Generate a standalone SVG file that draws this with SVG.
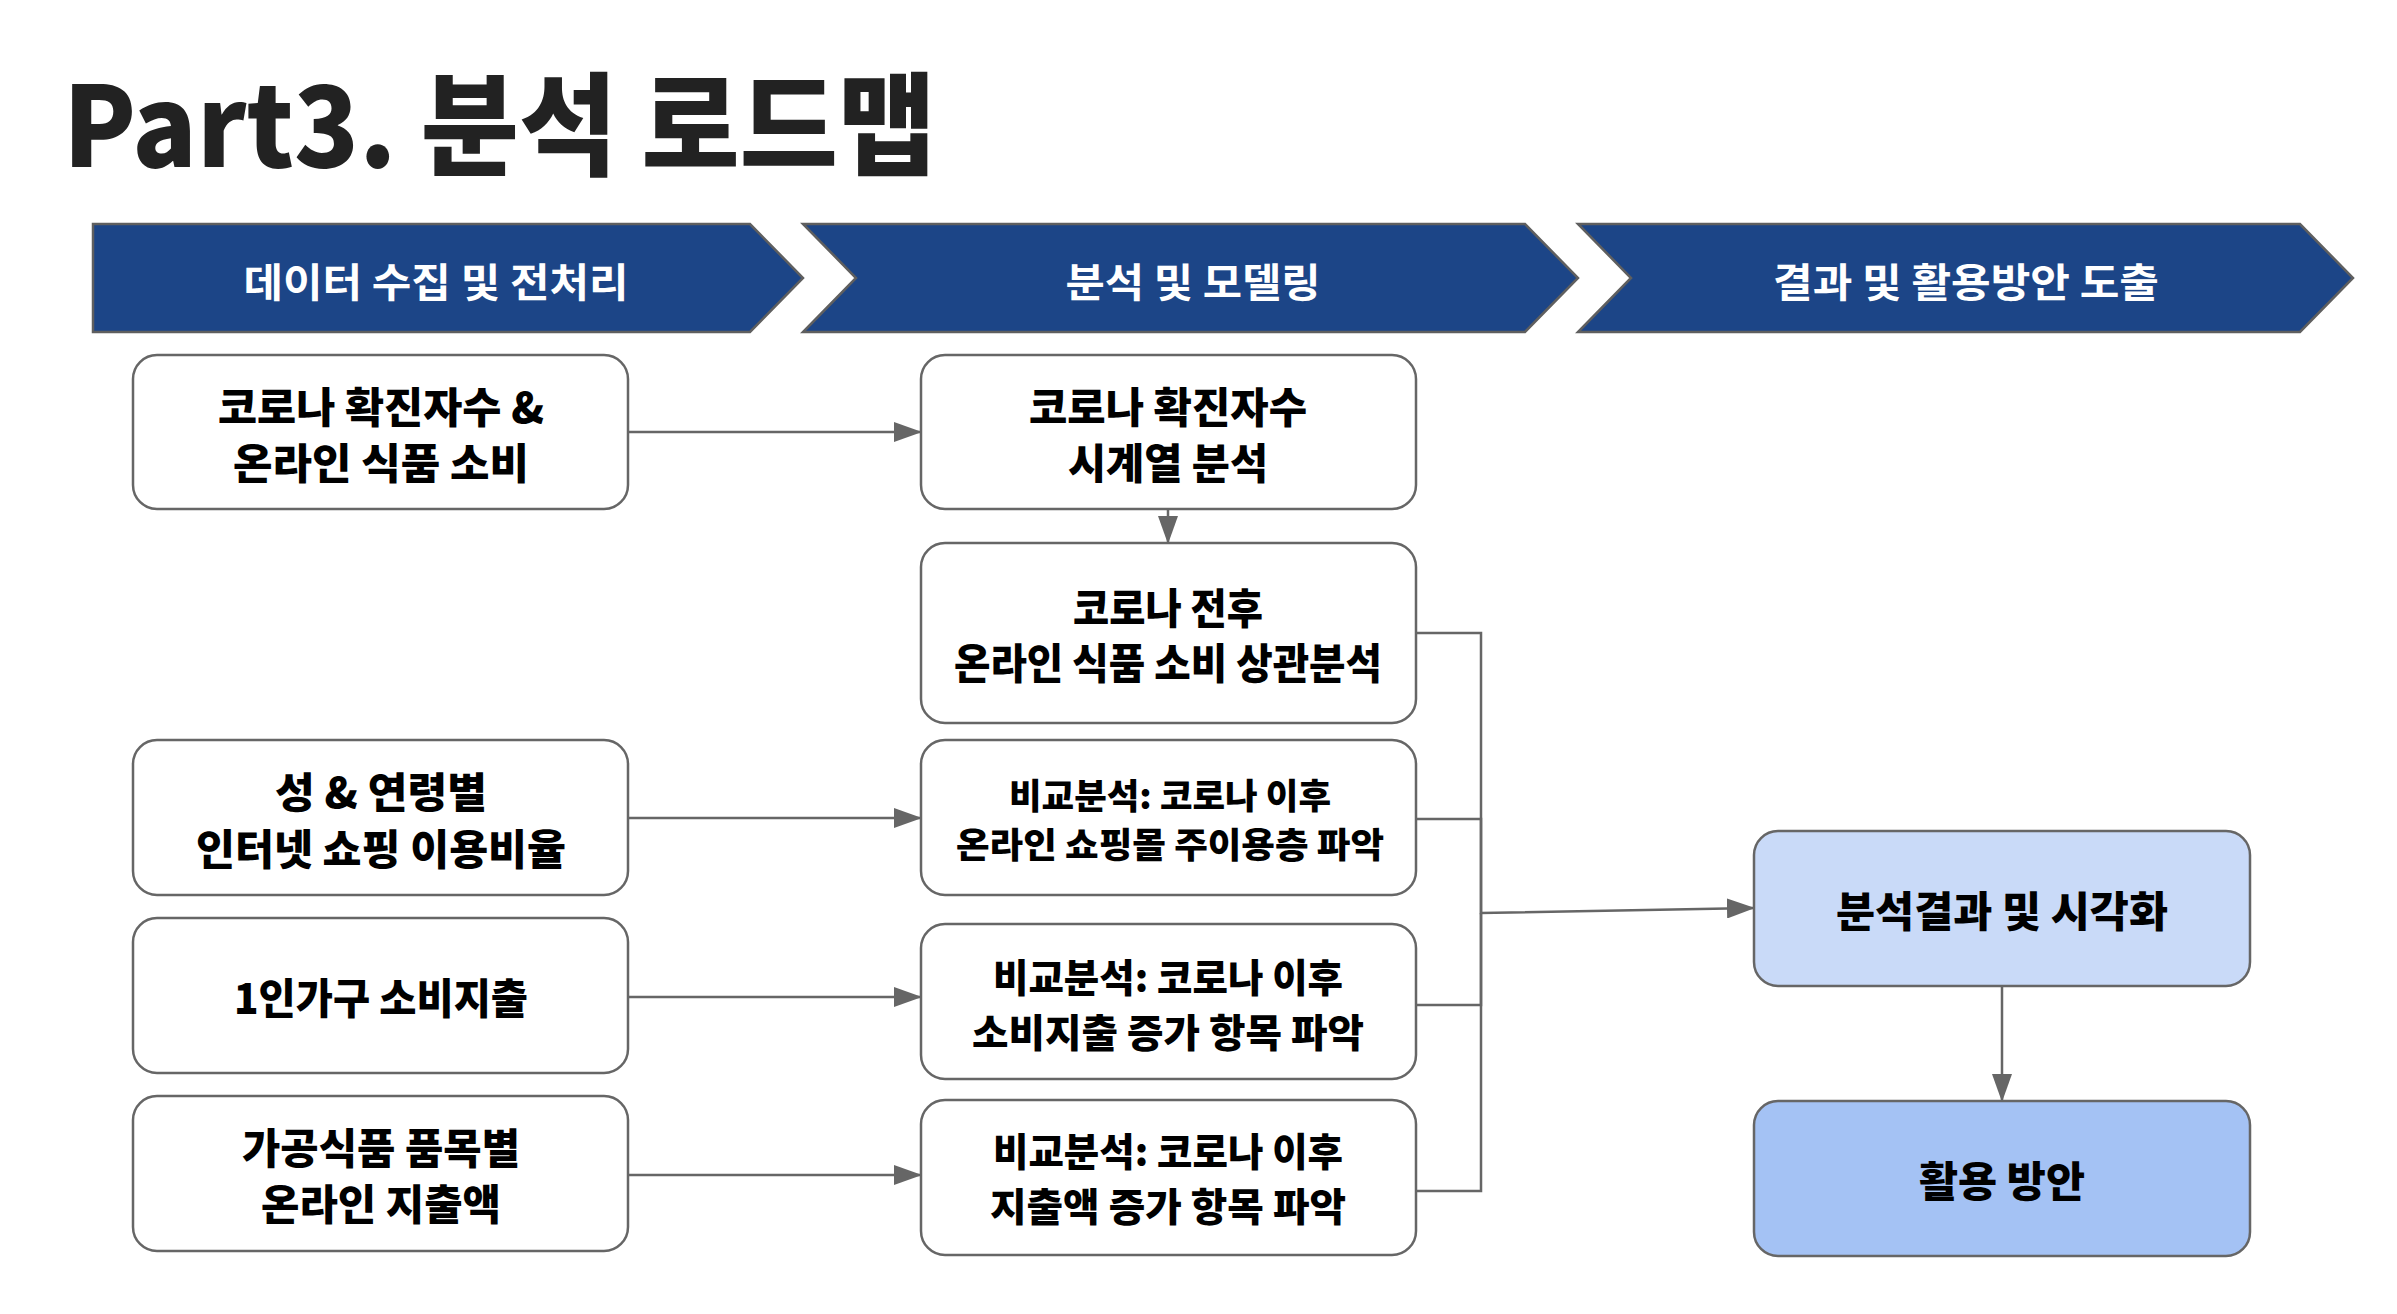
<svg xmlns="http://www.w3.org/2000/svg" width="2397" height="1314" viewBox="0 0 2397 1314">
<defs>
<style>
.bg{fill:#ffffff}
.chev{fill:#1c4587;stroke:#5f5f5f;stroke-width:2.5}
.ct{font-family:"Noto Sans CJK KR","Noto Sans",sans-serif;font-weight:700;font-size:40px;fill:#ffffff;text-anchor:middle;dominant-baseline:central}
.box{fill:#ffffff;stroke:#666666;stroke-width:2.5}
.c1{fill:#c9daf8;stroke:#666666;stroke-width:2.5}
.c2{fill:#a4c2f4;stroke:#666666;stroke-width:2.5}
.t{font-family:"Noto Sans CJK KR","Noto Sans",sans-serif;font-weight:900;font-size:42px;fill:#000000;text-anchor:middle;dominant-baseline:central}
.s{font-size:35px}
.m{font-size:39px}
.e{fill:none;stroke:#666666;stroke-width:2.5}
</style>
<marker id="ah" markerUnits="userSpaceOnUse" markerWidth="28" markerHeight="20" refX="27" refY="10" orient="auto">
<path d="M0,0 L28,10 L0,20 Z" fill="#666666"/>
</marker>
</defs>
<rect class="bg" x="0" y="0" width="2397" height="1314"/>
<text x="63" y="167" font-family="'Noto Sans CJK KR','Noto Sans',sans-serif" font-weight="900" font-size="112" fill="#222222" textLength="873" lengthAdjust="spacingAndGlyphs">Part3. 분석 로드맵</text>

<g id="phase1">
<polygon class="chev" points="93,224 750,224 803,278 750,332 93,332"/>
<text class="ct" x="436" y="280" textLength="385" lengthAdjust="spacingAndGlyphs">데이터 수집 및 전처리</text>
</g>
<g id="phase2">
<polygon class="chev" points="803,224 1525,224 1578,278 1525,332 803,332 856,278"/>
<text class="ct" x="1193" y="280" textLength="255" lengthAdjust="spacingAndGlyphs">분석 및 모델링</text>
</g>
<g id="phase3">
<polygon class="chev" points="1578,224 2300,224 2353,278 2300,332 1578,332 1631,278"/>
<text class="ct" x="1966" y="280" textLength="386" lengthAdjust="spacingAndGlyphs">결과 및 활용방안 도출</text>
</g>

<g id="connectors">
<path class="e" d="M628,432 H921" marker-end="url(#ah)"/>
<path class="e" d="M1168,509 V543" marker-end="url(#ah)"/>
<path class="e" d="M628,818 H921" marker-end="url(#ah)"/>
<path class="e" d="M628,997 H921" marker-end="url(#ah)"/>
<path class="e" d="M628,1175 H921" marker-end="url(#ah)"/>
<path class="e" d="M1416,633 H1481 V913 L1754,908" marker-end="url(#ah)"/>
<path class="e" d="M1416,819 H1481 V913"/>
<path class="e" d="M1416,1005 H1481 V913"/>
<path class="e" d="M1416,1191 H1481 V913"/>
<path class="e" d="M2002,986 V1101" marker-end="url(#ah)"/>
</g>

<g id="a1">
<rect class="box" x="133" y="355" width="495" height="154" rx="24"/>
<text class="t" x="381" y="404" textLength="326" lengthAdjust="spacingAndGlyphs">코로나 확진자수 &amp;</text>
<text class="t" x="381" y="460" textLength="296" lengthAdjust="spacingAndGlyphs">온라인 식품 소비</text>
</g>
<g id="a2">
<rect class="box" x="133" y="740" width="495" height="155" rx="24"/>
<text class="t" x="381" y="789" textLength="212" lengthAdjust="spacingAndGlyphs">성 &amp; 연령별</text>
<text class="t" x="381" y="846" textLength="370" lengthAdjust="spacingAndGlyphs">인터넷 쇼핑 이용비율</text>
</g>
<g id="a3">
<rect class="box" x="133" y="918" width="495" height="155" rx="24"/>
<text class="t" x="381" y="995" textLength="294" lengthAdjust="spacingAndGlyphs">1인가구 소비지출</text>
</g>
<g id="a4">
<rect class="box" x="133" y="1096" width="495" height="155" rx="24"/>
<text class="t" x="381" y="1145" textLength="278" lengthAdjust="spacingAndGlyphs">가공식품 품목별</text>
<text class="t" x="381" y="1201" textLength="240" lengthAdjust="spacingAndGlyphs">온라인 지출액</text>
</g>

<g id="b1">
<rect class="box" x="921" y="355" width="495" height="154" rx="24"/>
<text class="t" x="1168" y="404" textLength="278" lengthAdjust="spacingAndGlyphs">코로나 확진자수</text>
<text class="t" x="1168" y="460" textLength="200" lengthAdjust="spacingAndGlyphs">시계열 분석</text>
</g>
<g id="b2">
<rect class="box" x="921" y="543" width="495" height="180" rx="24"/>
<text class="t" x="1168" y="605" textLength="190" lengthAdjust="spacingAndGlyphs">코로나 전후</text>
<text class="t" x="1168" y="660" textLength="428" lengthAdjust="spacingAndGlyphs">온라인 식품 소비 상관분석</text>
</g>
<g id="b3">
<rect class="box" x="921" y="740" width="495" height="155" rx="24"/>
<text class="t s" x="1170" y="793" textLength="322" lengthAdjust="spacingAndGlyphs">비교분석: 코로나 이후</text>
<text class="t s" x="1170" y="842" textLength="428" lengthAdjust="spacingAndGlyphs">온라인 쇼핑몰 주이용층 파악</text>
</g>
<g id="b4">
<rect class="box" x="921" y="924" width="495" height="155" rx="24"/>
<text class="t m" x="1168" y="975" textLength="350" lengthAdjust="spacingAndGlyphs">비교분석: 코로나 이후</text>
<text class="t m" x="1168" y="1030" textLength="392" lengthAdjust="spacingAndGlyphs">소비지출 증가 항목 파악</text>
</g>
<g id="b5">
<rect class="box" x="921" y="1100" width="495" height="155" rx="24"/>
<text class="t m" x="1168" y="1149" textLength="350" lengthAdjust="spacingAndGlyphs">비교분석: 코로나 이후</text>
<text class="t m" x="1168" y="1204" textLength="356" lengthAdjust="spacingAndGlyphs">지출액 증가 항목 파악</text>
</g>

<g id="c1">
<rect class="c1" x="1754" y="831" width="496" height="155" rx="24"/>
<text class="t" x="2002" y="908" textLength="332" lengthAdjust="spacingAndGlyphs">분석결과 및 시각화</text>
</g>
<g id="c2">
<rect class="c2" x="1754" y="1101" width="496" height="155" rx="24"/>
<text class="t" x="2002" y="1178" textLength="166" lengthAdjust="spacingAndGlyphs">활용 방안</text>
</g>
</svg>
